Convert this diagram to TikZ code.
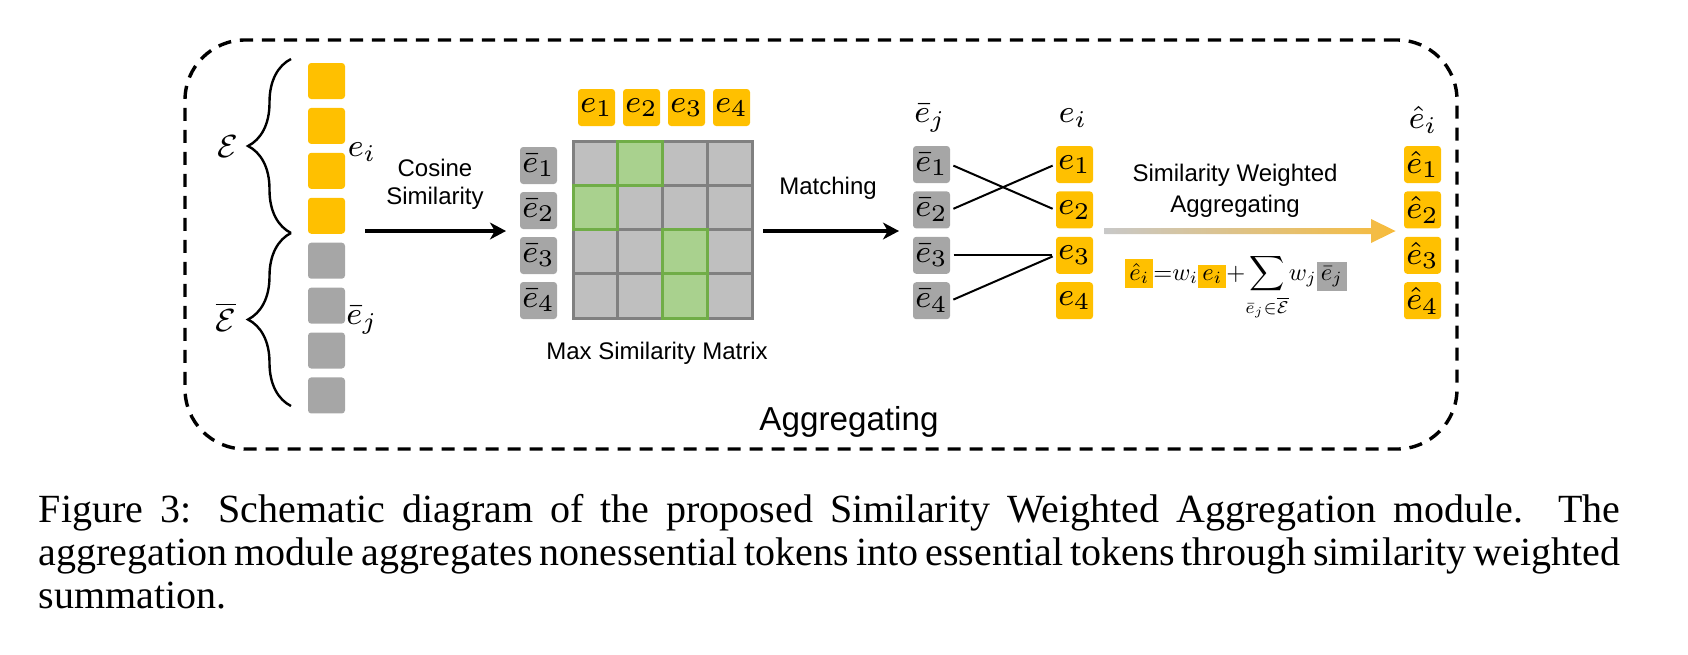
\documentclass[tikz,border=0pt]{standalone}
\usepackage{amsmath,amssymb,mathtools}
\usepackage{graphicx}
\usepackage{fontspec}
\setmainfont{Liberation Serif}
\setsansfont{Liberation Sans}
\usepackage{tikz}
\usetikzlibrary{
  arrows.meta,
  positioning,
  decorations.pathreplacing
}
\definecolor{tokyellow}{RGB}{255,192,0}
\definecolor{tokgray}{RGB}{166,166,166}
\definecolor{cellgray}{RGB}{191,191,191}
\definecolor{gridgray}{RGB}{128,128,128}
\definecolor{cellgreen}{RGB}{169,209,142}
\definecolor{edgegreen}{RGB}{112,173,71}
\definecolor{fadegray}{RGB}{200,200,200}
\definecolor{fadeamber}{RGB}{247,187,58}
\tikzset{
  tokbox/.style={rectangle,rounded corners=0.8pt,inner sep=0pt,minimum width=9.25pt,minimum height=9.25pt,font=\fontsize{8.5}{10}\selectfont},
  ytok/.style={tokbox,fill=tokyellow},
  gtok/.style={tokbox,fill=tokgray},
  cellnode/.style={rectangle,draw=gridgray,fill=cellgray,line width=0.75pt,minimum width=11.19pt,minimum height=11.06pt,inner sep=0pt},
  hitnode/.style={cellnode,draw=edgegreen,fill=cellgreen},
  txtlbl/.style={font=\sffamily\fontsize{6}{7}\selectfont,align=center,inner sep=0pt},
  mathlbl/.style={font=\fontsize{8.5}{10}\selectfont,inner sep=0pt},
  arr/.style={-{Stealth[length=4pt,width=4.2pt,inset=1.2pt]},line width=0.8pt},
  link/.style={line width=0.5pt,shorten <=0.7pt,shorten >=0.7pt},
  frame/.style={rectangle,draw,dashed,dash pattern=on 3.3pt off 2.2pt,line width=0.85pt,rounded corners=15pt},
  capline/.style={font=\fontsize{10}{10.75}\selectfont,inner sep=0pt}
}

\begin{document}
\begin{tikzpicture}[x=0.25pt,y=-0.25pt,node distance=1.7pt]
  \useasboundingbox (0,0) rectangle (1688,654);

  %% Dashed frame
  \node[frame,minimum width=318pt,minimum height=102.25pt] (frame) at (821,244.5) {};
  \node[txtlbl,font=\sffamily\fontsize{8.3}{10}\selectfont] (agg) at (849,422) {Aggregating};

  %% Token column
  \node[ytok,minimum height=9pt] (tok1) at (326.5,81) {};
  \node[ytok,minimum height=9pt,below=1.83pt of tok1] (tok2) {};
  \node[ytok,minimum height=9pt,below=1.83pt of tok2] (tok3) {};
  \node[ytok,minimum height=9pt,below=1.83pt of tok3] (tok4) {};
  \node[gtok,minimum height=9pt,below=1.83pt of tok4] (tok5) {};
  \node[gtok,minimum height=9pt,below=1.83pt of tok5] (tok6) {};
  \node[gtok,minimum height=9pt,below=1.83pt of tok6] (tok7) {};
  \node[gtok,minimum height=9pt,below=1.83pt of tok7] (tok8) {};

  \node[mathlbl] (eilbl) at (362,152) {$e_i$};
  \node[mathlbl] (ejlbl) at (362,320) {$\bar{e}_j$};

  %% Braces
  \coordinate (brtop) at (291,59);
  \coordinate (brmid) at (291,233);
  \coordinate (brbot) at (291,406);
  \draw[decorate,decoration={brace,amplitude=10.75pt},line width=0.6pt] (brmid) -- (brtop);
  \draw[decorate,decoration={brace,amplitude=10.75pt},line width=0.6pt] (brbot) -- (brmid);
  \node[mathlbl,font=\fontsize{8}{10}\selectfont] (setE) at (228,147) {$\mathcal{E}$};
  \node[mathlbl,font=\fontsize{8}{10}\selectfont] (setEbar) at (226,317) {$\overline{\mathcal{E}}$};

  %% Cosine similarity
  \coordinate (cosA) at (365,231);
  \coordinate (cosB) at (506,231);
  \draw[arr] (cosA) -- (cosB);
  \node[txtlbl] (coslbl) at (435,184) {Cosine\\Similarity};

  %% Row labels of the matrix
  \node[gtok] (rb1) at (538.5,165.5) {$\bar{e}_1$};
  \node[gtok,below=1.6pt of rb1] (rb2) {$\bar{e}_2$};
  \node[gtok,below=1.6pt of rb2] (rb3) {$\bar{e}_3$};
  \node[gtok,below=1.6pt of rb3] (rb4) {$\bar{e}_4$};

  %% Column labels of the matrix
  \node[ytok] (ce1) at (596.5,107.5) {$e_1$};
  \node[ytok,right=1.6pt of ce1] (ce2) {$e_2$};
  \node[ytok,right=1.6pt of ce2] (ce3) {$e_3$};
  \node[ytok,right=1.6pt of ce3] (ce4) {$e_4$};

  %% Max similarity matrix
  \foreach \r in {1,...,4}
    \foreach \c in {1,...,4}
      \node[cellnode] (m\r\c) at ({573+44.75*(\c-0.5)},{141+44.25*(\r-0.5)}) {};
  \node[hitnode] at (m12) {};
  \node[hitnode] at (m21) {};
  \node[hitnode] at (m33) {};
  \node[hitnode] at (m43) {};
  \node[txtlbl] (mxlbl) at (657,353) {Max Similarity Matrix};

  %% Matching
  \coordinate (matA) at (763,231);
  \coordinate (matB) at (899,231);
  \draw[arr] (matA) -- (matB);
  \node[txtlbl] (matlbl) at (828,188) {Matching};

  \node[gtok] (mb1) at (931.5,164.5) {$\bar{e}_1$};
  \node[gtok,below=1.7pt of mb1] (mb2) {$\bar{e}_2$};
  \node[gtok,below=1.7pt of mb2] (mb3) {$\bar{e}_3$};
  \node[gtok,below=1.7pt of mb3] (mb4) {$\bar{e}_4$};
  \node[ytok] (me1) at (1074.5,164.5) {$e_1$};
  \node[ytok,below=1.7pt of me1] (me2) {$e_2$};
  \node[ytok,below=1.7pt of me2] (me3) {$e_3$};
  \node[ytok,below=1.7pt of me3] (me4) {$e_4$};
  \node[mathlbl] (mbhead) at (930,118) {$\bar{e}_j$};
  \node[mathlbl] (mehead) at (1073,118) {$e_i$};

  \draw[link] (mb1.east) -- (me2.west);
  \draw[link] (mb2.east) -- (me1.west);
  \draw[link] (mb3.east) -- (me3.west);
  \draw[link] (mb4.east) -- (me3.west);

  %% Similarity weighted aggregating
  \coordinate (aggA) at (1104.5,231);
  \coordinate (aggB) at (1395.5,231);
  \shade[left color=fadegray,right color=fadeamber]
    (aggA) ++(0,-3) -- ++(266.5,0) -- ++(0,-9) -- (aggB) -- ++(-24.5,12)
    -- ++(0,-9) -- ++(-266.5,0) -- cycle;
  \node[txtlbl,font=\sffamily\fontsize{6}{7.75}\selectfont] (swlbl) at (1235,190.5)
    {Similarity Weighted\\Aggregating};
  \node[inner sep=0pt,anchor=base] (formula) at (1236,280)
    {\setlength{\fboxsep}{1.8pt}\resizebox{55.5pt}{!}{$\colorbox{tokyellow}{$\hat{e}_i$}{=}w_i\colorbox{tokyellow}{$e_i$}{+}\displaystyle\sum\limits_{\mathclap{\bar{e}_j\in\overline{\mathcal{E}}}}w_j\colorbox{tokgray}{$\bar{e}_j$}$}};

  %% Aggregated tokens
  \node[ytok] (oh1) at (1422.5,164.5) {$\hat{e}_1$};
  \node[ytok,below=1.7pt of oh1] (oh2) {$\hat{e}_2$};
  \node[ytok,below=1.7pt of oh2] (oh3) {$\hat{e}_3$};
  \node[ytok,below=1.7pt of oh3] (oh4) {$\hat{e}_4$};
  \node[mathlbl] (ohhead) at (1423,120) {$\hat{e}_i$};

  %% Caption
  \node[capline,anchor=base west] (cap1) at (38,522)
    {\makebox[395.3pt][s]{Figure 3: Schematic diagram of the proposed Similarity Weighted Aggregation module. The}};
  \node[capline,anchor=base west] (cap2) at (38,565)
    {\makebox[395.3pt][s]{aggregation module aggregates nonessential tokens into essential tokens through similarity weighted}};
  \node[capline,anchor=base west] (cap3) at (38,608) {summation.};

\end{tikzpicture}
\end{document}
